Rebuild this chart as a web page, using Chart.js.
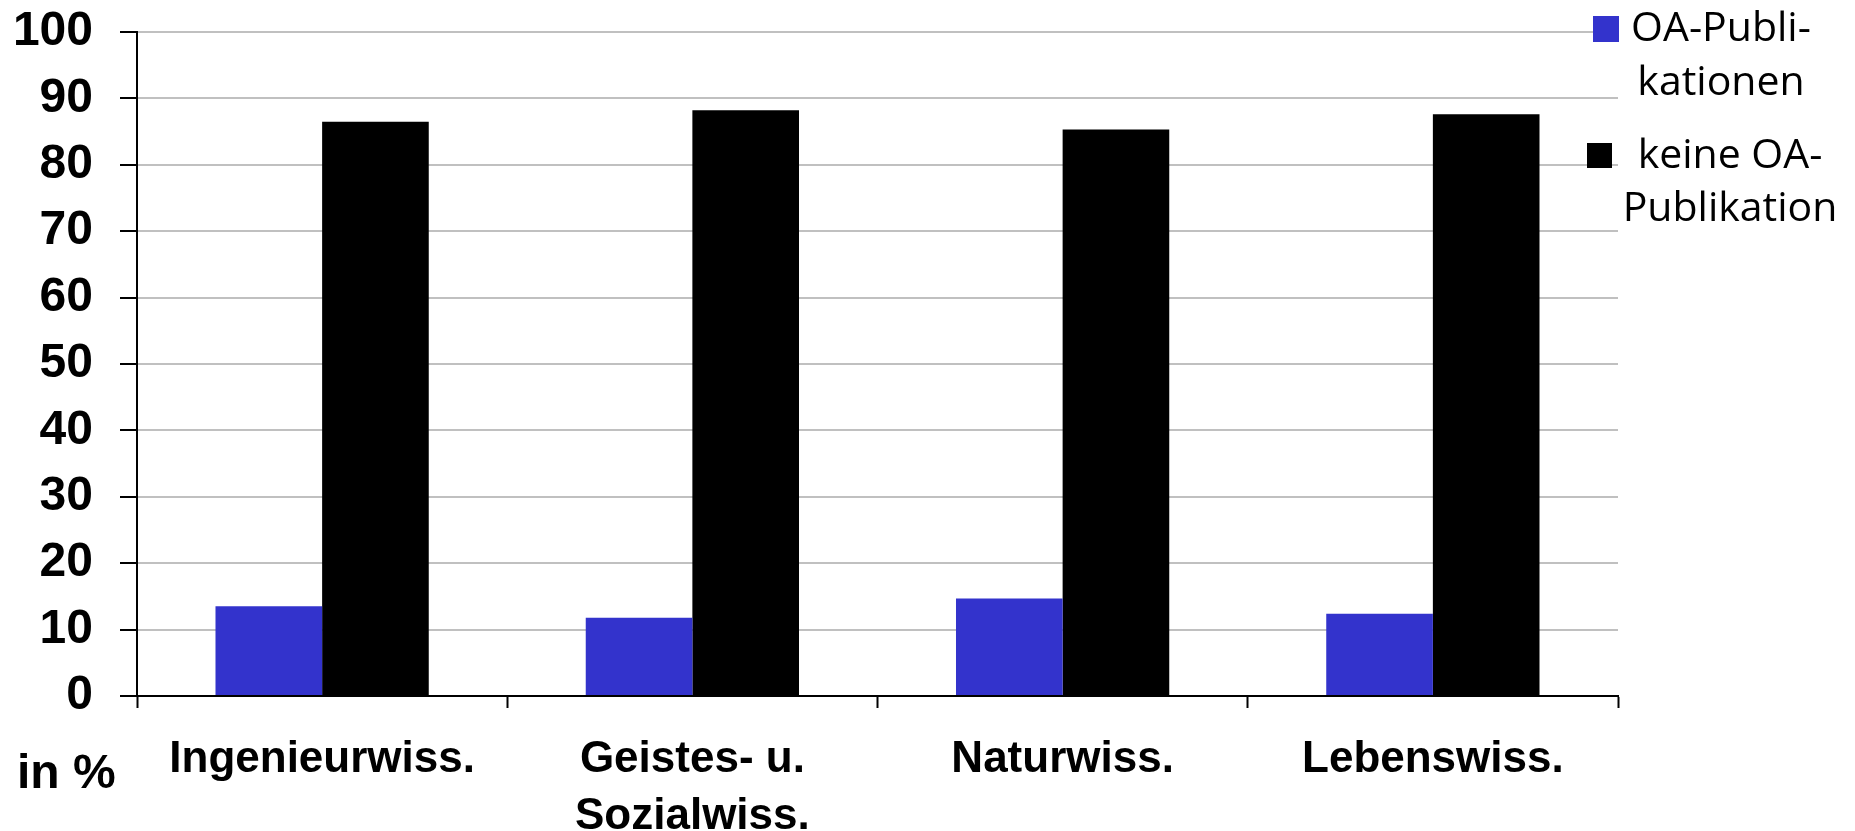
<!DOCTYPE html>
<html lang="de">
<head>
<meta charset="UTF-8">
<script src="https://cdn.jsdelivr.net/npm/chart.js"></script>
<title>OA-Publikationen nach Fachgebiet</title>
<style>
  html, body { margin: 0; padding: 0; background: #fff; }
  canvas { display: block; }
</style>
</head>
<body>
<canvas id="grafico" width="1855" height="831"></canvas>
<script>
// Daten
const kategorien = [
    'Ingenieurwiss.',
    ['Geistes- u.', 'Sozialwiss.'],
    'Naturwiss.',
    'Lebenswiss.'
];
const oaPublikationen = [13.5, 11.8, 14.7, 12.4];
const keineOaPublikation = [86.5, 88.2, 85.3, 87.6];
const legendeOa = ['OA-Publi-', 'kationen'];
const legendeKeine = ['keine OA-', 'Publikation'];
const yTicks = [0, 10, 20, 30, 40, 50, 60, 70, 80, 90, 100];

const BLAU = '#3333CC';
const SCHWARZ = '#000000';
const SCHRIFT = '"Liberation Sans", Arial, sans-serif';

// Legende und "in %" von Hand zeichnen
const extras = {
    id: 'extras',
    afterDraw(chart) {
        const ctx = chart.ctx;
        ctx.save();
        ctx.fillStyle = SCHWARZ;
        ctx.font = 'bold 48px ' + SCHRIFT;
        ctx.textAlign = 'left';
        ctx.textBaseline = 'alphabetic';
        ctx.fillText('in %', 17, 788);

        ctx.font = '41px "Open Sans", sans-serif';
        ctx.textAlign = 'center';
        // Eintrag 1
        ctx.fillStyle = BLAU;
        ctx.fillRect(1593, 16, 26, 26);
        ctx.fillStyle = SCHWARZ;
        ctx.fillText(legendeOa[0], 1721, 41);
        ctx.fillText(legendeOa[1], 1721, 95);
        // Eintrag 2
        ctx.fillRect(1587, 143, 25, 25);
        ctx.fillText(legendeKeine[0], 1730, 168);
        ctx.fillText(legendeKeine[1], 1730, 221);
        ctx.restore();
    }
};

new Chart(document.getElementById('grafico'), {
    type: 'bar',
    data: {
        labels: kategorien,
        datasets: [{
            label: legendeOa.join(''),
            data: oaPublikationen,
            backgroundColor: BLAU,
            borderWidth: 0
        }, {
            label: legendeKeine.join(' '),
            data: keineOaPublikation,
            backgroundColor: SCHWARZ,
            borderWidth: 0
        }]
    },
    options: {
        responsive: false,
        devicePixelRatio: 1,
        animation: false,
        layout: { padding: { top: 32, right: 237, left: 0, bottom: 0 } },
        datasets: {
            bar: { barPercentage: 1.0, categoryPercentage: 0.576 }
        },
        plugins: {
            legend: { display: false },
            tooltip: { enabled: false }
        },
        scales: {
            x: {
                grid: {
                    color: 'rgba(0,0,0,0)',
                    tickColor: SCHWARZ,
                    tickLength: 12,
                    tickWidth: 2,
                    offset: true
                },
                border: { color: SCHWARZ, width: 2 },
                ticks: {
                    color: SCHWARZ,
                    font: { family: SCHRIFT, size: 44, weight: 'bold', lineHeight: 1.28 },
                    padding: 24,
                    maxRotation: 0,
                    autoSkip: false
                },
                afterFit(scale) {
                    scale.height = 135;
                    scale.paddingLeft = 0;
                    scale.paddingRight = 0;
                }
            },
            y: {
                min: 0,
                max: 100,
                afterBuildTicks(scale) { scale.ticks = yTicks.map(v => ({ value: v })); },
                grid: {
                    color: '#c0c0c0',
                    lineWidth: 2,
                    tickColor: SCHWARZ,
                    tickLength: 17,
                    tickWidth: 2
                },
                border: { color: SCHWARZ, width: 2 },
                ticks: {
                    color: SCHWARZ,
                    font: { family: SCHRIFT, size: 48, weight: 'bold' },
                    padding: 27
                },
                afterFit(scale) {
                    scale.width = 137;
                    scale.paddingTop = 0;
                    scale.paddingBottom = 0;
                }
            }
        }
    },
    plugins: [extras]
});
</script>
</body>
</html>
